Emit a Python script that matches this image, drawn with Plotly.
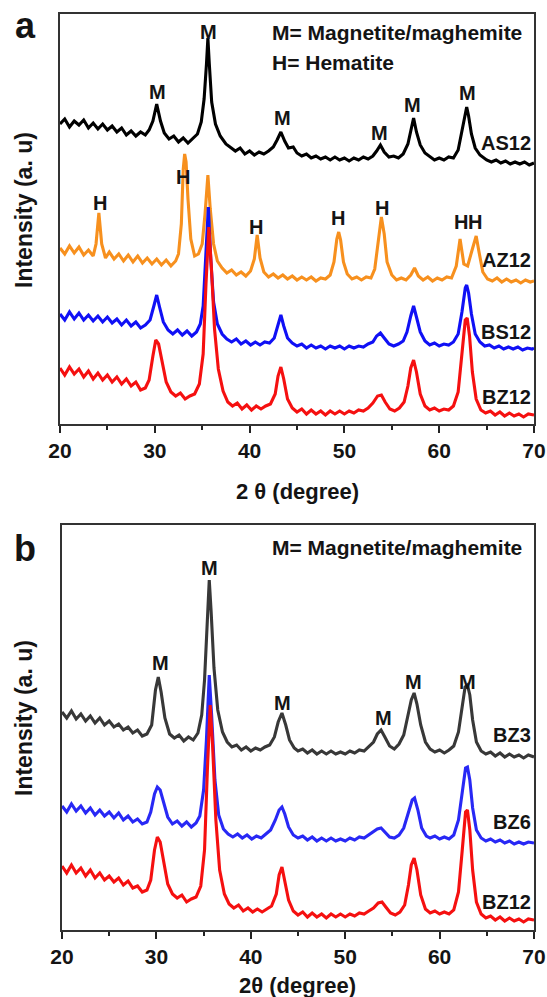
import plotly.graph_objects as go

# ---------------- data (2theta, intensity a.u., stacked offsets included) ----------------
AS12 = [(20,300),(20.5,305),(21,297),(21.5,303),(22,299),(22.5,304),(23,296),(23.5,301),(24,295),(24.5,300),
        (25,294),(25.5,298),(26,292),(26.5,296),(27,289),(27.5,293),(28,288),(28.5,292),(29,289),(29.4,294),
        (29.8,303),(30.2,320),(30.6,303),(31,291),(31.5,285),(32,288),(32.5,282),(33,286),(33.5,281),(34,285),
        (34.5,290),(34.9,302),(35.2,325),(35.45,360),(35.6,386),(35.75,360),(36,322),(36.4,300),(36.9,288),
        (37.5,280),(38,276),(38.5,273),(39,276),(39.5,270),(40,273),(40.5,269),(41,272),(41.5,270),(42,273),
        (42.5,277),(42.9,284),(43.3,292),(43.7,283),(44.1,276),(44.6,277),(45,271),(45.5,268),(46,270),
        (46.5,266),(47,268),(47.5,265),(48,267),(48.5,264),(49,267),(49.5,264),(50,266),(50.5,263),(51,266),
        (51.5,264),(52,267),(52.5,265),(53,268),(53.4,273),(53.8,279),(54.2,272),(54.7,267),(55.2,268),
        (55.7,266),(56.2,270),(56.7,280),(57.0,293),(57.3,306),(57.6,292),(58.0,279),(58.5,271),(59,267),
        (59.5,264),(60,266),(60.5,264),(61,267),(61.5,266),(62,274),(62.4,292),(62.7,308),(62.9,317),
        (63.1,308),(63.4,290),(63.8,276),(64.3,269),(65,264),(65.5,262),(66,264),(66.5,261),(67,263),
        (67.5,260),(68,262),(68.5,260),(69,262),(69.5,259),(70,261)]

AZ12 = [(20,176),(20.5,170),(21,178),(21.5,171),(22,177),(22.5,169),(23,174),(23.5,168),(23.8,180),(24.1,211),
        (24.4,180),(24.8,166),(25.2,172),(25.7,165),(26.2,170),(26.7,163),(27.2,169),(27.7,162),(28.2,168),
        (28.7,161),(29.2,166),(29.7,160),(30.2,165),(30.7,159),(31.2,164),(31.7,158),(32.2,163),(32.5,170),
        (32.8,200),(33.0,255),(33.15,270),(33.3,262),(33.5,225),(33.8,185),(34.2,168),(34.6,170),(35.0,180),
        (35.3,210),(35.6,249),(35.85,215),(36.2,180),(36.6,163),(37.1,156),(37.6,151),(38.1,154),(38.6,149),
        (39.1,152),(39.6,148),(40.1,153),(40.5,165),(40.8,189),(41.1,166),(41.5,152),(42,147),(42.5,150),
        (43,146),(43.5,149),(44,145),(44.5,148),(45,144),(45.5,147),(46,144),(46.5,147),(47,143),(47.5,146),
        (48,145),(48.5,149),(48.9,162),(49.2,185),(49.4,192),(49.6,184),(49.9,162),(50.3,150),(50.8,145),
        (51.3,147),(51.8,144),(52.3,147),(52.8,146),(53.2,155),(53.6,185),(53.9,207),(54.2,190),(54.5,162),
        (55,149),(55.5,144),(56,146),(56.5,144),(57,149),(57.4,156),(57.8,148),(58.3,144),(58.8,147),
        (59.3,143),(59.8,146),(60.3,144),(60.8,147),(61.3,146),(61.8,158),(62.2,185),(62.6,160),(63.0,158),
        (63.5,175),(63.9,188),(64.2,172),(64.6,152),(65.1,145),(65.6,143),(66.1,146),(66.6,142),(67.1,145),
        (67.6,142),(68.1,144),(68.6,141),(69.1,144),(69.6,142),(70,143)]

BS12 = [(20,110),(20.5,104),(21,112),(21.5,105),(22,111),(22.5,104),(23,109),(23.5,103),(24,108),(24.5,102),
        (25,107),(25.5,101),(26,105),(26.5,99),(27,104),(27.5,98),(28,102),(28.5,96),(29,99),(29.5,104),
        (29.9,118),(30.2,129),(30.5,117),(30.9,102),(31.4,94),(31.9,90),(32.4,94),(32.9,89),(33.4,93),
        (33.9,88),(34.4,92),(34.8,100),(35.1,118),(35.4,170),(35.65,217),(35.9,165),(36.2,122),(36.6,100),
        (37.1,90),(37.6,85),(38.1,82),(38.6,85),(39.1,80),(39.6,83),(40.1,79),(40.6,82),(41.1,79),(41.6,82),
        (42.1,81),(42.6,86),(43.0,98),(43.3,109),(43.6,98),(44.0,86),(44.5,81),(45,78),(45.5,80),(46,76),
        (46.5,79),(47,76),(47.5,78),(48,75),(48.5,78),(49,76),(49.5,78),(50,75),(50.5,78),(51,76),(51.5,78),
        (52,77),(52.5,80),(53,82),(53.4,88),(53.8,91),(54.2,86),(54.7,80),(55.2,78),(55.7,80),(56.2,83),
        (56.6,92),(57.0,108),(57.3,118),(57.6,107),(58.0,92),(58.5,83),(59,79),(59.5,81),(60,78),(60.5,80),
        (61,79),(61.5,82),(62,90),(62.4,112),(62.75,136),(62.9,139),(63.1,131),(63.4,110),(63.8,90),
        (64.3,82),(64.8,78),(65.3,79),(65.8,76),(66.3,78),(66.8,75),(67.3,77),(67.8,75),(68.3,77),(68.8,74),
        (69.3,76),(69.8,75),(70,76)]

BZ12_A = [(20,56),(20.5,49),(21,57),(21.5,50),(22,55),(22.5,47),(23,53),(23.5,45),(24,51),(24.5,44),(25,49),
          (25.5,42),(26,47),(26.5,40),(27,45),(27.5,38),(28,42),(28.5,34),(29,36),(29.4,44),(29.8,68),
          (30.1,84),(30.4,80),(30.8,60),(31.2,42),(31.7,32),(32.2,28),(32.7,31),(33.2,25),(33.7,28),(34.2,30),
          (34.7,40),(35.1,70),(35.4,140),(35.7,197),(35.95,160),(36.3,95),(36.7,55),(37.2,33),(37.7,22),
          (38.2,18),(38.7,21),(39.2,15),(39.7,19),(40.2,14),(40.7,18),(41.2,15),(41.7,18),(42.2,20),(42.7,30),
          (43.0,48),(43.3,57),(43.6,45),(44.0,25),(44.5,16),(45,12),(45.5,15),(46,10),(46.5,14),(47,10),
          (47.5,13),(48,9),(48.5,13),(49,10),(49.5,13),(50,10),(50.5,13),(51,11),(51.5,14),(52,13),(52.5,16),
          (53,21),(53.5,28),(53.9,29),(54.3,22),(54.8,15),(55.3,13),(55.8,16),(56.3,22),(56.7,38),(57.0,56),
          (57.3,64),(57.6,52),(58.0,30),(58.5,18),(59,14),(59.5,16),(60,13),(60.5,15),(61,14),(61.5,18),
          (62,32),(62.4,70),(62.75,104),(62.95,106),(63.2,88),(63.5,52),(63.9,25),(64.4,14),(64.9,11),
          (65.4,13),(65.9,9),(66.4,12),(66.9,8),(67.4,11),(67.9,8),(68.4,10),(68.9,7),(69.4,10),(70,9)]

BZ3 = [(20,218),(20.5,212),(21,219),(21.5,211),(22,216),(22.5,209),(23,214),(23.5,207),(24,212),(24.5,205),
       (25,209),(25.5,203),(26,206),(26.5,200),(27,203),(27.5,197),(28,200),(28.5,194),(29,196),(29.5,205),
       (29.9,240),(30.2,253),(30.5,238),(30.9,212),(31.4,196),(31.9,192),(32.4,195),(32.9,189),(33.4,193),
       (33.9,190),(34.4,197),(34.8,215),(35.1,250),(35.4,310),(35.6,350),(35.8,318),(36.1,262),(36.5,220),
       (37.0,198),(37.5,188),(38,183),(38.5,185),(39,180),(39.5,183),(40,179),(40.5,182),(41,180),(41.5,183),
       (42,185),(42.5,193),(42.9,208),(43.3,217),(43.7,205),(44.1,190),(44.6,182),(45,179),(45.5,181),
       (46,177),(46.5,180),(47,176),(47.5,179),(48,176),(48.5,179),(49,176),(49.5,178),(50,176),(50.5,179),
       (51,177),(51.5,180),(52,179),(52.5,183),(53,188),(53.4,196),(53.8,200),(54.2,193),(54.7,184),
       (55.2,181),(55.7,186),(56.2,195),(56.7,215),(57.0,230),(57.3,237),(57.6,226),(58.0,205),(58.5,188),
       (59,181),(59.5,178),(60,180),(60.5,177),(61,180),(61.5,184),(62,198),(62.4,225),(62.7,243),
       (62.95,245),(63.2,235),(63.5,210),(63.9,188),(64.4,179),(64.9,176),(65.4,178),(65.9,174),(66.4,177),
       (66.9,173),(67.4,176),(67.9,173),(68.4,175),(68.9,172),(69.4,175),(70,173)]

BZ6 = [(20,124),(20.5,118),(21,126),(21.5,119),(22,124),(22.5,117),(23,122),(23.5,115),(24,120),(24.5,114),
       (25,118),(25.5,112),(26,117),(26.5,110),(27,114),(27.5,108),(28,111),(28.5,106),(29,108),(29.4,118),
       (29.8,136),(30.1,143),(30.4,140),(30.8,126),(31.2,113),(31.7,106),(32.2,109),(32.7,104),(33.2,108),
       (33.7,103),(34.2,107),(34.6,114),(35.0,140),(35.3,190),(35.6,255),(35.85,215),(36.2,150),(36.6,115),
       (37.1,101),(37.6,96),(38.1,93),(38.6,96),(39.1,92),(39.6,95),(40.1,91),(40.6,94),(41.1,92),(41.6,96),
       (42.1,100),(42.6,110),(43.0,120),(43.3,123),(43.6,116),(44.0,103),(44.5,95),(45,92),(45.5,94),
       (46,90),(46.5,93),(47,89),(47.5,92),(48,89),(48.5,92),(49,89),(49.5,91),(50,89),(50.5,92),(51,90),
       (51.5,93),(52,92),(52.5,95),(53,98),(53.4,101),(53.8,102),(54.2,98),(54.7,93),(55.2,92),(55.7,95),
       (56.2,102),(56.7,118),(57.1,130),(57.35,132),(57.7,120),(58.1,102),(58.6,94),(59,92),(59.5,94),
       (60,91),(60.5,93),(61,91),(61.5,95),(62,110),(62.4,140),(62.75,162),(62.95,163),(63.2,150),
       (63.5,122),(63.9,100),(64.4,92),(64.9,89),(65.4,91),(65.9,88),(66.4,90),(66.9,87),(67.4,89),
       (67.9,86),(68.4,88),(68.9,86),(69.4,88),(70,87)]

BZ12_B = [(20,64),(20.5,57),(21,65),(21.5,57),(22,62),(22.5,54),(23,60),(23.5,52),(24,57),(24.5,50),(25,54),
          (25.5,48),(26,52),(26.5,45),(27,49),(27.5,42),(28,44),(28.5,38),(29,40),(29.4,50),(29.8,80),
          (30.1,93),(30.4,88),(30.8,65),(31.2,46),(31.7,36),(32.2,32),(32.7,35),(33.2,28),(33.7,31),(34.2,33),
          (34.7,44),(35.1,80),(35.4,160),(35.7,225),(35.95,185),(36.3,110),(36.7,60),(37.2,36),(37.7,26),
          (38.2,22),(38.7,25),(39.2,19),(39.7,22),(40.2,18),(40.7,21),(41.2,18),(41.7,21),(42.2,24),(42.7,36),
          (43.0,55),(43.3,63),(43.6,50),(44.0,30),(44.5,19),(45,15),(45.5,18),(46,13),(46.5,17),(47,13),
          (47.5,16),(48,12),(48.5,16),(49,13),(49.5,16),(50,13),(50.5,16),(51,14),(51.5,17),(52,16),(52.5,19),
          (53,22),(53.5,27),(53.9,28),(54.3,23),(54.8,17),(55.3,15),(55.8,18),(56.3,25),(56.7,45),(57.0,65),
          (57.3,72),(57.6,60),(58.0,35),(58.5,21),(59,17),(59.5,19),(60,16),(60.5,18),(61,16),(61.5,20),
          (62,38),(62.4,80),(62.75,118),(62.95,120),(63.2,100),(63.5,60),(63.9,28),(64.4,16),(64.9,12),
          (65.4,14),(65.9,10),(66.4,13),(66.9,9),(67.4,12),(67.9,9),(68.4,11),(68.9,8),(69.4,11),(70,10)]

X_TICKS = [20, 30, 40, 50, 60, 70]

# peak labels: (2theta, intensity-position, text)
LABELS_A = [(30.3, 332, "M"), (35.7, 392, "M"), (43.5, 306, "M"), (53.65, 291, "M"), (57.2, 319, "M"),
            (63.0, 331, "M"), (24.2, 221, "H"), (33.0, 247, "H"), (40.7, 197, "H"), (49.3, 206, "H"),
            (54.0, 216, "H"), (62.3, 202, "H"), (63.8, 202, "H")]
LABELS_B = [(30.4, 267, "M"), (35.6, 362, "M"), (43.4, 227, "M"), (54.1, 212, "M"), (57.2, 248, "M"),
            (63.0, 248, "M")]
NAMES_A = [("AS12", 281), ("AZ12", 164), ("BS12", 92), ("BZ12", 27)]
NAMES_B = [("BZ3", 195), ("BZ6", 108), ("BZ12", 28)]

# ---------------- figure ----------------
W, H = 547, 997
FONT = "Liberation Sans, Arial, sans-serif"
TXT = "#141414"

def px(rx):
    return rx / W

def py(ry):
    return 1 - ry / H

fig = go.Figure()

def add(series, color, xa, ya):
    xs, ys = zip(*series)
    fig.add_trace(go.Scatter(x=list(xs), y=list(ys), mode="lines", xaxis=xa, yaxis=ya,
                             line=dict(color=color, width=3.1), showlegend=False, hoverinfo="skip"))

add(AS12, "#000000", "x", "y")
add(AZ12, "#F7901E", "x", "y")
add(BS12, "#1010F5", "x", "y")
add(BZ12_A, "#F51010", "x", "y")
add(BZ3, "#383838", "x2", "y2")
add(BZ6, "#2828F5", "x2", "y2")
add(BZ12_B, "#F51010", "x2", "y2")

xax = dict(range=[20, 70], tickvals=X_TICKS, ticks="outside", ticklen=7, tickwidth=1.5,
           tickcolor="#222", showline=True, linecolor="#333", linewidth=1.6, mirror=True,
           showgrid=False, zeroline=False, automargin=False, ticklabeloverflow="allow",
           minor=dict(dtick=5, tick0=20, ticks="outside", ticklen=4, tickwidth=1.5, tickcolor="#222"),
           tickfont=dict(family=FONT, size=21, color=TXT, weight="bold"))
yax = dict(showticklabels=False, ticks="", showline=True, linecolor="#333", linewidth=1.6,
           mirror=True, showgrid=False, zeroline=False, automargin=False)

fig.update_layout(
    width=W, height=H, margin=dict(l=0, r=0, t=0, b=0, autoexpand=False),
    paper_bgcolor="white", plot_bgcolor="white",
    xaxis=dict(xax, domain=[px(60), px(534)], anchor="y"),
    yaxis=dict(yax, domain=[py(424), py(13.5)], range=[0, 410.5], anchor="x"),
    xaxis2=dict(xax, domain=[px(62), px(534)], anchor="y2"),
    yaxis2=dict(yax, domain=[py(930), py(525)], range=[0, 405], anchor="x2"),
)

def txt(size):
    return dict(family=FONT, size=size, color=TXT)

ann = []
for (x, y, t) in LABELS_A:
    ann.append(dict(x=x, y=y, xref="x", yref="y", text="<b>%s</b>" % t, showarrow=False,
                    xanchor="center", yanchor="middle", font=txt(20)))
for (x, y, t) in LABELS_B:
    ann.append(dict(x=x, y=y, xref="x2", yref="y2", text="<b>%s</b>" % t, showarrow=False,
                    xanchor="center", yanchor="middle", font=txt(20)))
for (t, y) in NAMES_A:
    ann.append(dict(x=69.9, y=y, xref="x", yref="y", text="<b>%s</b>" % t, showarrow=False,
                    xanchor="right", yanchor="middle", font=txt(20)))
for (t, y) in NAMES_B:
    ann.append(dict(x=69.9, y=y, xref="x2", yref="y2", text="<b>%s</b>" % t, showarrow=False,
                    xanchor="right", yanchor="middle", font=txt(20)))

def pann(x, y, text, size, angle=0):
    return dict(x=px(x), y=py(y), xref="paper", yref="paper", text=text, showarrow=False,
                xanchor="center", yanchor="middle", textangle=angle, font=txt(size))

ann += [
    dict(x=42.15, y=392, xref="x", yref="y", text="<b>M= Magnetite/maghemite</b>", showarrow=False,
         xanchor="left", yanchor="middle", font=txt(21)),
    dict(x=42.15, y=362, xref="x", yref="y", text="<b>H= Hematite</b>", showarrow=False,
         xanchor="left", yanchor="middle", font=txt(21)),
    dict(x=42.0, y=383, xref="x2", yref="y2", text="<b>M= Magnetite/maghemite</b>", showarrow=False,
         xanchor="left", yanchor="middle", font=txt(21)),
    pann(25, 26, "<b>a</b>", 36),
    pann(25, 548, "<b>b</b>", 36),
    pann(297, 491, "<b>2 θ (degree)</b>", 22),
    pann(297, 985, "<b>2θ (degree)</b>", 22),
    pann(24, 210, "<b>Intensity (a. u)</b>", 23, -90),
    pann(24, 718, "<b>Intensity (a. u)</b>", 23, -90),
]
fig.update_layout(annotations=ann)

# remove the default 8px page margin so the figure sits at the window's top-left corner
fig.write_html("out.html", config={"displayModeBar": False},
               post_script="document.body.style.margin='0px';")
